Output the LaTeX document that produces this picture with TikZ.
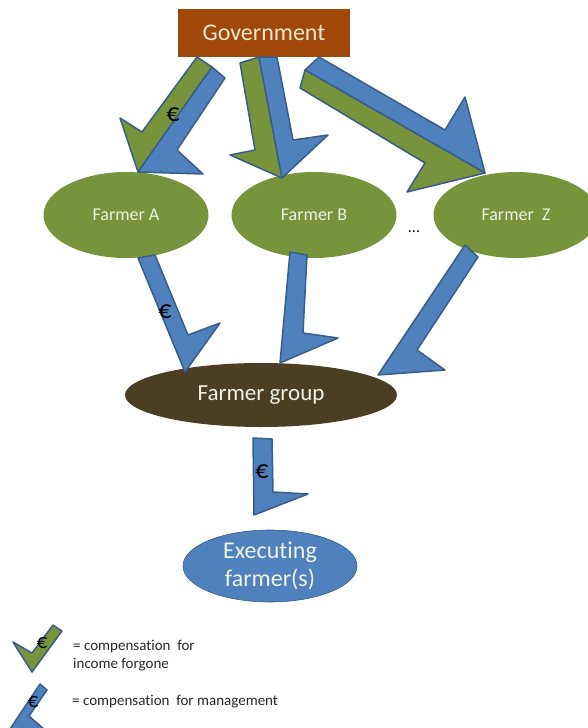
\documentclass[tikz,border=0pt]{standalone}
\usepackage{fontspec}
\setmainfont{Carlito}[Ligatures=NoCommon]
\usetikzlibrary{shapes.geometric}
\definecolor{govbrown}{RGB}{160,72,10}
\definecolor{fgreen}{RGB}{119,147,60}
\definecolor{fblue}{RGB}{79,129,189}
\definecolor{fline}{RGB}{56,93,138}
\definecolor{fgroup}{RGB}{74,63,35}
\definecolor{lighttext}{RGB}{240,242,228}
\definecolor{govtext}{RGB}{245,230,205}
\definecolor{legcol}{RGB}{40,40,40}
\begin{document}
\begin{tikzpicture}[x=1pt,y=-1pt,
  farmer/.style={ellipse, fill=fgreen, minimum width=165pt, minimum height=86pt, text=lighttext, font=\fontsize{18}{20}\selectfont, inner sep=0},
  gblock/.style={fill=fgreen, draw=fline, line width=1.5pt, line join=round},
  bblock/.style={fill=fblue, draw=fline, line width=1.5pt, line join=round},
  euro/.style={font=\fontsize{26}{26}\selectfont, text=black, inner sep=0},
  legtext/.style={font=\fontsize{15}{18}\selectfont, text=legcol, anchor=west, align=left, inner sep=0}]
\useasboundingbox (0,0) rectangle (588,728);

% nodes
\node[fill=govbrown, minimum width=172pt, minimum height=48pt, inner sep=0, text=govtext, font=\fontsize{24}{26}\selectfont] (gov) at (264,33) {Government};
\node[farmer] (fa) at (126,215) {Farmer A};
\node[farmer] (fb) at (314,215) {Farmer B};
\node[farmer] (fz) at (516,215) {Farmer\ \ Z};
\node[inner sep=0, font=\fontsize{16}{16}\selectfont] (dots) at (414,232) {...};
\node[ellipse, fill=fgroup, minimum width=272pt, minimum height=64pt, inner sep=0, text=lighttext, font=\fontsize{23}{25}\selectfont] (grp) at (261,395) {Farmer group};
\node[ellipse, fill=fblue, draw=fline, line width=0.6pt, minimum width=174pt, minimum height=72pt, inner sep=0, text=lighttext, align=center, font=\fontsize{24}{28}\selectfont] (exe) at (270,566) {Executing\\farmer(s)};

% Government -> Farmer A
\draw[gblock] (197,57) -- (212,67) -- (138,172) -- (120,118) -- (142,132) -- cycle;
\draw[bblock] (212,67) -- (225,78) -- (177,150) -- (203,174) -- (138,172) -- cycle;
\node[euro] (e1) at (173,115) {€};
% Government -> Farmer B
\draw[gblock] (240,63) -- (259,57) -- (282,178) -- (230,155) -- (255,150) -- cycle;
\draw[bblock] (259,57) -- (277,57) -- (293,140) -- (328,135) -- (282,178) -- cycle;
% Government -> Farmer Z
\draw[bblock] (319,57) -- (445,130) -- (465,97) -- (485,173) -- (305,70) -- cycle;
\draw[gblock] (305,70) -- (485,173) -- (407,192) -- (425,163) -- (300,88) -- cycle;

% Farmers -> group
\draw[bblock] (138,258) -- (155,255) -- (188,335) -- (220,323) -- (185,372) -- cycle;
\node[euro] (e2) at (165,312) {€};
\draw[bblock] (290,252) -- (307,255) -- (303,333) -- (338,338) -- (280,363) -- cycle;
\draw[bblock] (465,245) -- (478,257) -- (417,350) -- (445,370) -- (378,375) -- cycle;

% group -> executing
\draw[bblock] (253,438) -- (272,439) -- (273,492) -- (308,494) -- (254,515) -- cycle;
\node[euro] (e3) at (262,472) {€};

% legend
\draw[gblock] (13,642) -- (32,653) -- (53,625) -- (62,631) -- (32,672) -- cycle;
\node[euro, font=\fontsize{21}{21}\selectfont] (e4) at (42,643) {€};
\draw[bblock] (40,684) -- (47,690) -- (29,716) -- (45,730) -- (8,732) -- cycle;
\node[euro, font=\fontsize{21}{21}\selectfont] (e5) at (33,702) {€};
\node[legtext] (l1) at (73,656) {= compensation\ \ for\\income forgone};
\node[legtext] (l2) at (72,702) {= compensation\ \ for management};
\end{tikzpicture}
\end{document}
